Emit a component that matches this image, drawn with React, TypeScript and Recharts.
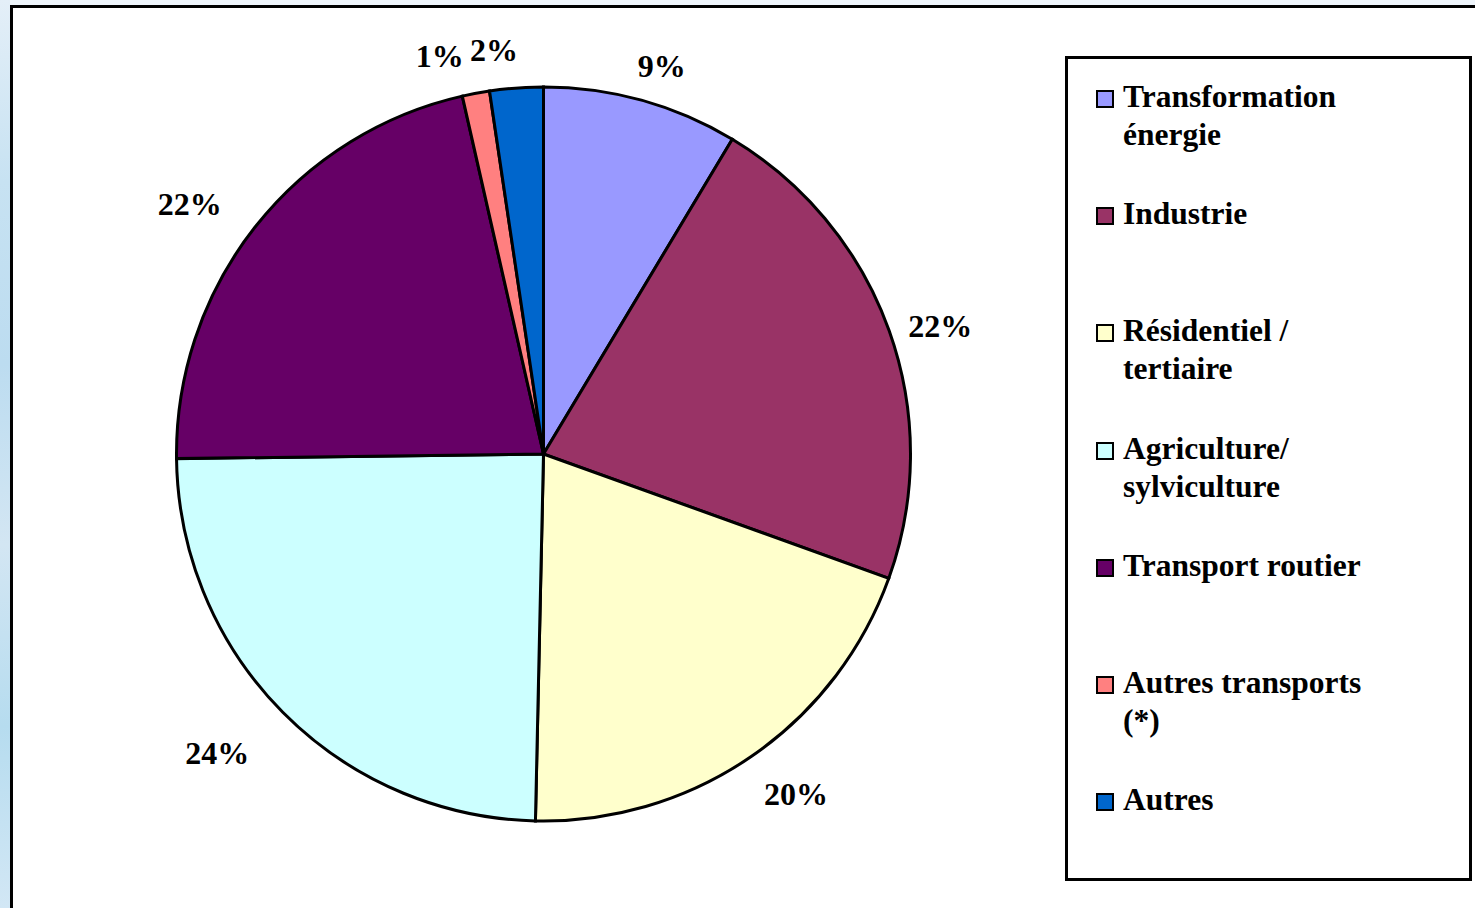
import React from "react";
import { PieChart, Pie, Cell, Legend } from "recharts";

const categories = [
  "Transformation énergie",
  "Industrie",
  "Résidentiel / tertiaire",
  "Agriculture/ sylviculture",
  "Transport routier",
  "Autres transports (*)",
  "Autres",
];
const values = [8.6, 21.9, 19.85, 24.45, 21.65, 1.2, 2.35];
const colors = ["#9999FF", "#993366", "#FFFFCC", "#CCFFFF", "#660066", "#FF8080", "#0066CC"];

const data = categories.map((name, i) => ({ name, value: values[i] }));

const FONT = "'Liberation Serif', 'Times New Roman', serif";
const RAD = Math.PI / 180;

const renderLabel = (props: any) => {
  const { cx, cy, midAngle, outerRadius, percent } = props;
  // clockwise angle from 12 o'clock
  let theta = 90 - midAngle;
  theta = ((theta % 360) + 360) % 360;
  theta += 2.6 * Math.sin(2 * theta * RAD);
  if (percent < 0.03) theta -= 3.5 - 50 * percent; // spread the thin slices' labels
  const sn = Math.sin(theta * RAD);
  const cs = Math.cos(theta * RAD);
  const off = 45.1 + 19.9 * Math.abs(sn) - 12.9 * sn - 5.35 * cs;
  const r = outerRadius + off;
  const x = cx + r * sn;
  const y = cy - r * cs + 4 - 6 * Math.max(0, sn) * Math.max(0, Math.sin(2 * theta * RAD));
  return (
    <text
      x={x}
      y={y}
      textAnchor="middle"
      dominantBaseline="central"
      fill="#000"
      style={{ fontFamily: FONT, fontWeight: 700, fontSize: 32 }}
    >
      {`${Math.round(percent * 100)}%`}
    </text>
  );
};

const renderLegend = (props: any) => {
  const payload = props.payload || [];
  const items = categories.map((name, i) => {
    const p = payload.find((e: any) => e.value === name);
    return { name, color: (p && p.color) || colors[i] };
  });
  return (
    <div
      style={{
        width: 407,
        height: 825,
        boxSizing: "border-box",
        border: "3px solid #000",
        background: "#fff",
        position: "relative",
        fontFamily: FONT,
        fontWeight: 700,
        fontSize: 31.5,
        color: "#000",
      }}
    >
      {items.map((entry, i) => (
        <div
          key={i}
          style={{
            position: "absolute",
            left: 0,
            top: 19 + i * 117.2,
            width: 400,
          }}
        >
          <div
            style={{
              position: "absolute",
              left: 28,
              top: 12,
              width: 18,
              height: 18,
              boxSizing: "border-box",
              border: "2.5px solid #000",
              background: entry.color,
            }}
          />
          <div
            style={{
              position: "absolute",
              left: 55,
              top: 0,
              width: 255,
              lineHeight: "38px",
              whiteSpace: "normal",
            }}
          >
            {entry.name}
          </div>
        </div>
      ))}
    </div>
  );
};

export default function App() {
  return (
    <div
      style={{
        position: "absolute",
        left: 0,
        top: 0,
        width: 1475,
        height: 908,
        overflow: "hidden",
        background: "#eef5fb",
      }}
    >
      <div
        style={{
          position: "absolute",
          left: 0,
          top: 0,
          width: 10,
          height: 908,
          background:
            "linear-gradient(180deg, #e4eff8 0%, #c7e2f2 20%, #bcdcf0 40%, #d3e6f3 60%, #b6dcef 80%, #d2e7f5 100%)",
        }}
      />
      <div
        style={{
          position: "absolute",
          left: 10,
          top: 5,
          width: 1480,
          height: 920,
          boxSizing: "border-box",
          border: "3px solid #000",
          background: "#fff",
        }}
      />
      <div style={{ position: "absolute", left: 0, top: 0 }}>
        <PieChart width={1475} height={908} margin={{ top: 0, right: 0, bottom: 0, left: 0 }}>
          <Pie
            data={data}
            dataKey="value"
            nameKey="name"
            cx={543.5}
            cy={454}
            outerRadius={367}
            startAngle={90}
            endAngle={-270}
            stroke="#000"
            strokeWidth={3}
            label={renderLabel}
            labelLine={false}
            legendType="square"
            isAnimationActive={false}
          >
            {data.map((d, i) => (
              <Cell key={d.name} fill={colors[i]} />
            ))}
          </Pie>
          <Legend
            layout="vertical"
            content={renderLegend}
            wrapperStyle={{ position: "absolute", left: 1065, top: 56, width: 407, height: 825 }}
          />
        </PieChart>
      </div>
    </div>
  );
}
